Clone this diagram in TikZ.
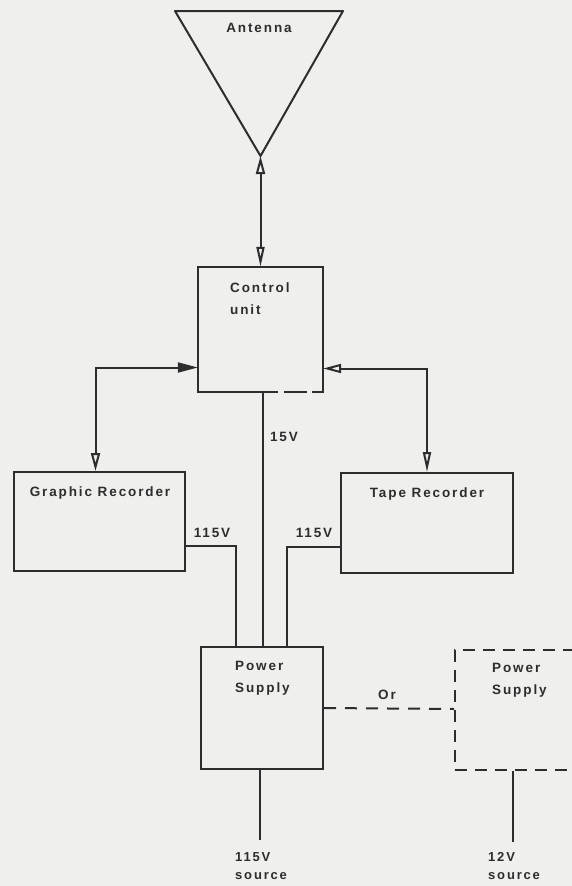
\documentclass[tikz,border=0pt]{standalone}
\usepackage{fontspec}
\newfontfamily\labfont[LetterSpace=14]{Liberation Sans Bold}
\usetikzlibrary{arrows.meta}
\definecolor{paper}{RGB}{239,239,237}
\definecolor{ink}{RGB}{45,45,45}
\tikzset{
  box/.style={rectangle, draw=ink, line width=2pt, inner sep=0pt},
  dbox/.style={rectangle, draw=ink, line width=2pt, inner sep=0pt, dash pattern=on 12pt off 8pt},
  lab/.style={font=\labfont\fontsize{13.5}{22}\selectfont, text=ink, inner sep=0pt},
  small/.style={font=\labfont\fontsize{13}{18}\selectfont, text=ink, inner sep=0pt},
  wire/.style={draw=ink, line width=2pt},
  bothopen/.style={{Triangle[open, length=18pt, width=9pt]}-{Triangle[open, length=20pt, width=8pt]}},
  fillopen/.style={{Triangle[open, length=18pt, width=9pt]}-{Triangle[length=20pt, width=10pt]}},
}
\begin{document}
\begin{tikzpicture}[x=1pt, y=-1pt]
\fill[paper] (0,0) rectangle (572,886);
\useasboundingbox (0,0) rectangle (572,886);
\clip (0,0) rectangle (572,886);
% antenna
\coordinate (tl) at (175,11);
\coordinate (tr0) at (343,11);
\coordinate (ant) at (260.5,156);
\draw[wire, line join=round] (tl) -- (tr0) -- (ant) -- cycle;
\node[lab] (antlab) at (259,28) {Antenna};
% control unit
\node[rectangle, minimum width=125pt, minimum height=125pt, inner sep=0pt] (cu) at (260.5,329.5) {};
\draw[wire] ([xshift=80pt]cu.south west) -- (cu.south west) -- (cu.north west) -- (cu.north east) -- (cu.south east) -- ([xshift=-11pt]cu.south east);
\draw[wire] ([xshift=-16pt]cu.south east) -- ([xshift=-39pt]cu.south east);
\node[lab, anchor=west, align=left] (cutext) at (230,299) {Control\\unit};
% recorders
\node[box, minimum width=171pt, minimum height=99pt] (gr) at (99.5,521.5) {};
\node[lab] (grtext) at (100,493) {Graphic Recorder};
\node[box, minimum width=172pt, minimum height=100pt] (tr) at (427,523) {};
\node[lab] (trtext) at (427,494) {Tape Recorder};
% power supplies
\node[box, minimum width=122pt, minimum height=122pt] (ps) at (262,708) {};
\node[lab, anchor=west, align=left] (pstext) at (235,678) {Power\\Supply};
\node[dbox, minimum width=160pt, minimum height=120pt] (ps2) at (535,710) {};
\node[lab, anchor=west, align=left] (ps2text) at (492,680) {Power\\Supply};
% connectors
\draw[wire, bothopen] (ant) -- (cu.north);
\draw[wire, fillopen] ([xshift=-4pt]gr.north) |- ([yshift=-38pt]cu.west);
\draw[wire, bothopen] ([yshift=-39pt]cu.east) -| (tr.north);
\draw[wire] ([xshift=2.5pt]cu.south) -- ([xshift=1pt]ps.north);
\draw[wire] ([yshift=-24pt]gr.east) -| ([xshift=-26pt]ps.north);
\draw[wire] ([yshift=-24pt]tr.west) -| ([xshift=25pt]ps.north);
\draw[wire, dash pattern=on 12pt off 9pt] (ps.east) -- ([yshift=1pt]ps2.west);
\coordinate (s1) at (260,840);
\coordinate (s2) at (513,842);
\draw[wire] ([xshift=-2pt]ps.south) -- (s1);
\draw[wire] (ps2.south -| s2) -- (s2);
% labels
\node[lab] (v15) at (284,437) {15V};
\node[lab] (v115a) at (212,533) {115V};
\node[lab] (v115b) at (314,533) {115V};
\node[lab] (orlab) at (387,695) {Or};
\node[small, anchor=west, align=left] (src1) at (235,866) {115V\\source};
\node[small, anchor=west, align=left] (src2) at (488,866) {12V\\source};
\end{tikzpicture}
\end{document}
